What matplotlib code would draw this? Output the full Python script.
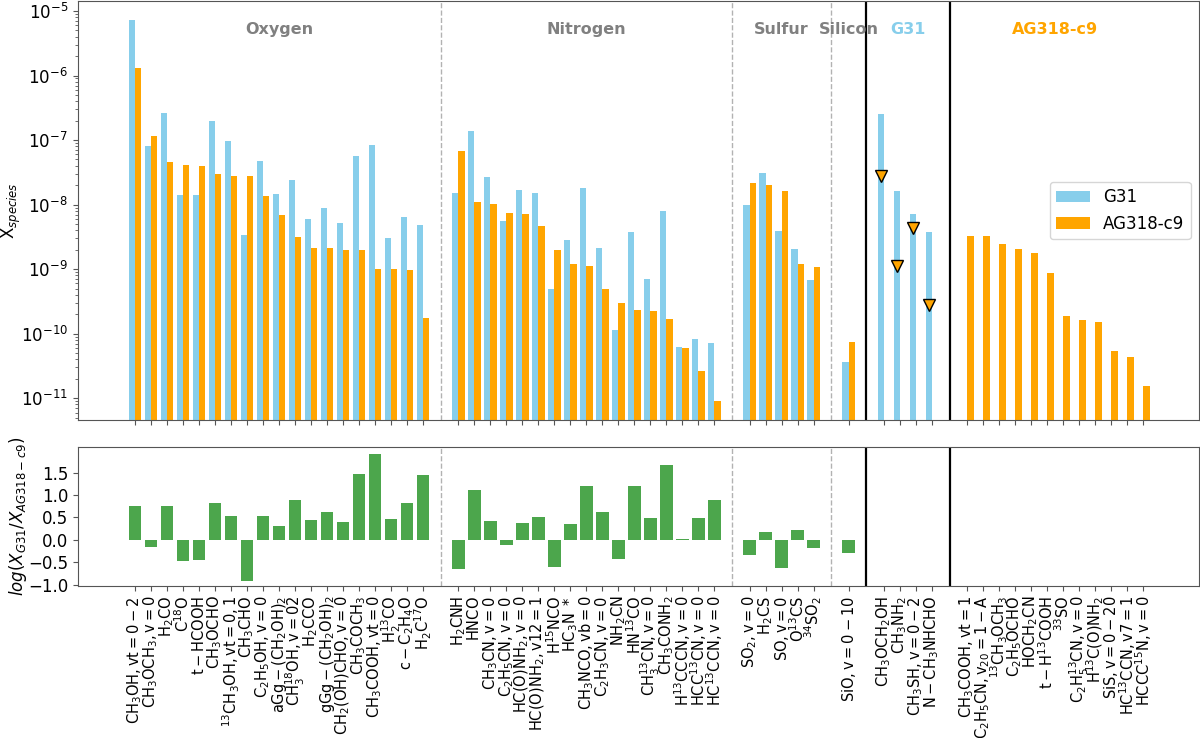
import numpy as np
import matplotlib
matplotlib.use('Agg')
import matplotlib.pyplot as plt

# Oxygen grubu
oxy_labels = [r'$\mathrm{CH_3OH, vt=0-2}$', r'$\mathrm{CH_3OCH_3, v=0}$', r'$\mathrm{H_2CO}$',
              r'$\mathrm{C^{18}O}$', r'$\mathrm{t-HCOOH}$', r'$\mathrm{CH_3OCHO}$',
              r'$\mathrm{^{13}CH_3OH, vt=0,1}$', r'$\mathrm{CH_3CHO}$', r'$\mathrm{C_2H_5OH, v=0}$',
              r'$\mathrm{aGg-(CH_2OH)_2}$', r'$\mathrm{CH_3^{18}OH, v=02}$', r'$\mathrm{H_2CCO}$',
              r'$\mathrm{gGg-(CH_2OH)_2}$', r'$\mathrm{CH_2(OH)CHO, v=0}$', r'$\mathrm{CH_3COCH_3}$',
              r'$\mathrm{CH_3COOH, vt=0}$', r'$\mathrm{H_2^{13}CO}$', r'$\mathrm{c-C_2H_4O}$',
              r'$\mathrm{H_2C^{17}O}$']
oxy_g31 = [7.3e-6, 8.1e-8, 2.6e-7, 1.4e-8, 1.4e-8, 2.0e-7, 9.6e-8, 3.4e-9, 4.7e-8, 1.46e-8,
           2.4e-8, 6.0e-9, 8.8e-9, 5.1e-9, 5.7e-8, 8.4e-8, 3.0e-9, 6.4e-9, 4.9e-9]
oxy_ag = [1.3e-6, 1.15e-7, 4.6e-8, 4.1e-8, 4.0e-8, 3.0e-8, 2.8e-8, 2.8e-8, 1.38e-8, 7.0e-9,
          3.1e-9, 2.15e-9, 2.15e-9, 2.0e-9, 1.95e-9, 1.0e-9, 1.0e-9, 9.8e-10, 1.75e-10]

# Nitrogen grubu
nit_labels = [r'$\mathrm{H_2CNH}$', r'$\mathrm{HNCO}$', r'$\mathrm{CH_3CN, v=0}$',
              r'$\mathrm{C_2H_5CN, v=0}$', r'$\mathrm{HC(O)NH_2, v=0}$', r'$\mathrm{HC(O)NH_2, v12=1}$',
              r'$\mathrm{H^{15}NCO}$', r'$\mathrm{HC_3N\ *}$', r'$\mathrm{CH_3NCO, vb=0}$',
              r'$\mathrm{C_2H_3CN, v=0}$', r'$\mathrm{NH_2CN}$', r'$\mathrm{HN^{13}CO}$',
              r'$\mathrm{CH_3^{13}CN, v=0}$', r'$\mathrm{CH_3CONH_2}$', r'$\mathrm{H^{13}CCCN, v=0}$',
              r'$\mathrm{HCC^{13}CN, v=0}$', r'$\mathrm{HC^{13}CCN, v=0}$']
nit_g31 = [1.53e-8, 1.4e-7, 2.68e-8, 5.64e-9, 1.69e-8, 1.5e-8, 4.93e-10, 2.83e-9, 1.79e-8,
           2.1e-9, 1.13e-10, 3.81e-9, 6.97e-10, 7.98e-9, 6.3e-11, 8.2e-11, 7.1e-11]
nit_ag = [6.7e-8, 1.1e-8, 1.04e-8, 7.5e-9, 7.08e-9, 4.72e-9, 2.0e-9, 1.22e-9, 1.12e-9,
          4.93e-10, 2.96e-10, 2.36e-10, 2.23e-10, 1.67e-10, 6.08e-11, 2.65e-11, 9.1e-12]

# Sulfur ve Silicon
sul_labels = [r'$\mathrm{SO_2, v=0}$', r'$\mathrm{H_2CS}$', r'$\mathrm{SO, v=0}$',
              r'$\mathrm{O^{13}CS}$', r'$\mathrm{^{34}SO_2}$']
sul_g31 = [9.9e-9, 3.05e-8, 3.9e-9, 2.03e-9, 6.9e-10]
sul_ag = [2.16e-8, 2.01e-8, 1.63e-8, 1.22e-9, 1.07e-9]

sil_labels = [r'$\mathrm{SiO, v=0-10}$']
sil_g31 = [3.7e-11]
sil_ag = [7.45e-11]

# Sadece G31 (AG318-c9 icin ust limit)
g31only_labels = [r'$\mathrm{CH_3OCH_2OH}$', r'$\mathrm{CH_3NH_2}$', r'$\mathrm{CH_3SH, v=0-2}$',
                  r'$\mathrm{N-CH_3NHCHO}$']
g31only_g31 = [2.54e-7, 1.64e-8, 7.24e-9, 3.77e-9]
g31only_aglim = [2.76e-8, 1.1e-9, 4.35e-9, 2.77e-10]

# Sadece AG318-c9
agonly_labels = [r'$\mathrm{CH_3COOH, vt=1}$', r'$\mathrm{C_2H_5CN, v_{20}=1-A}$',
                 r'$\mathrm{^{13}CH_3OCH_3}$', r'$\mathrm{C_2H_5OCHO}$', r'$\mathrm{HOCH_2CN}$',
                 r'$\mathrm{t-H^{13}COOH}$', r'$\mathrm{^{33}SO}$', r'$\mathrm{C_2H_5^{13}CN, v=0}$',
                 r'$\mathrm{H^{13}C(O)NH_2}$', r'$\mathrm{SiS, v=0-20}$', r'$\mathrm{HC^{13}CCN, v7=1}$',
                 r'$\mathrm{HCCC^{15}N, v=0}$']
agonly_ag = [3.23e-9, 3.23e-9, 2.45e-9, 2.08e-9, 1.76e-9, 8.73e-10, 1.88e-10, 1.61e-10,
             1.52e-10, 5.4e-11, 4.3e-11, 1.53e-11]

# x konumlari: gruplar arasinda bosluk
gap = 2.2
sizes = [len(oxy_labels), len(nit_labels), len(sul_labels), len(sil_labels),
         len(g31only_labels), len(agonly_labels)]
pos = []
start = 0.0
for n in sizes:
    pos.append(start + np.arange(n))
    start += n - 1 + gap
x_oxy, x_nit, x_sul, x_sil, x_g31, x_ag = pos
dividers = [p[-1] + gap / 2 for p in pos[:-1]]

w = 0.4
blue = 'skyblue'
orange = 'orange'
frame = '#555555'

fig = plt.figure(figsize=(12, 7.38), dpi=100)
ax1 = fig.add_axes([0.0648, 0.4309, 0.9345, 0.5678])
ax2 = fig.add_axes([0.0648, 0.2060, 0.9345, 0.1880])

both = [(x_oxy, oxy_g31, oxy_ag), (x_nit, nit_g31, nit_ag),
        (x_sul, sul_g31, sul_ag), (x_sil, sil_g31, sil_ag)]
for i, (x, g, a) in enumerate(both):
    ax1.bar(x - w / 2, g, w, color=blue, label='G31' if i == 0 else None)
    ax1.bar(x + w / 2, a, w, color=orange, label='AG318-c9' if i == 0 else None)
    ratio = np.log10(np.array(g) / np.array(a))
    ax2.bar(x, ratio, 0.8, color='green', alpha=0.7)

ax1.bar(x_g31 - w / 2, g31only_g31, w, color=blue)
ax1.plot(x_g31 - w / 2, g31only_aglim, 'v', color=orange, markeredgecolor='black',
         markersize=9, linestyle='none')
ax1.bar(x_ag + w / 2, agonly_ag, w, color=orange)

ax1.set_yscale('log')
ax1.set_ylim(4.6e-12, 1.43e-5)
ax2.set_ylim(-1.03, 2.07)
ax2.set_yticks([-1.0, -0.5, 0.0, 0.5, 1.0, 1.5])

xall = np.concatenate(pos)
labels = oxy_labels + nit_labels + sul_labels + sil_labels + g31only_labels + agonly_labels
for ax in (ax1, ax2):
    ax.set_xlim(-3.58, 66.5)
    ax.set_xticks(xall)
    for j, d in enumerate(dividers):
        if j < 3:
            ax.axvline(d, color='gray', linestyle='--', alpha=0.6, linewidth=1.0)
        else:
            ax.axvline(d, color='black', linewidth=1.6)
    ax.tick_params(axis='y', labelsize=12)
    ax.tick_params(which='both', color=frame)
    for s in ax.spines.values():
        s.set_color(frame)
ax1.set_xticklabels([])
ax2.set_xticklabels(labels, rotation=90, fontsize=10.5)

# grup basliklari
group_names = ['Oxygen', 'Nitrogen', 'Sulfur', 'Silicon', 'G31', 'AG318-c9']
group_colors = ['gray', 'gray', 'gray', 'gray', blue, orange]
for p, name, c in zip(pos, group_names, group_colors):
    ax1.text(p.mean(), 0.933, name, transform=ax1.get_xaxis_transform(), ha='center',
             va='center', fontsize=11.5, fontweight='bold', color=c)

ax1.legend(loc='center right', fontsize=12)
ax1.set_ylabel(r'X$_{species}$', fontsize=12)
ax2.set_ylabel(r'$log(X_{G31}/X_{AG318-c9})$', fontsize=12)
ax1.yaxis.set_label_coords(-0.0488, 0.5)
ax2.yaxis.set_label_coords(-0.0435, 0.5)

plt.savefig('out.png', dpi=100)
